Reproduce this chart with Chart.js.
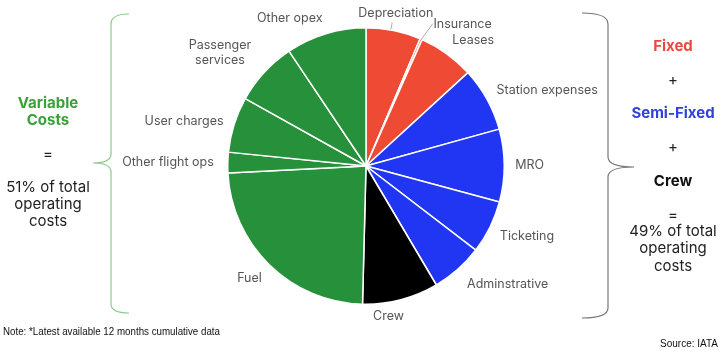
<!DOCTYPE html>
<html><head><meta charset="utf-8">
<script src="https://cdn.jsdelivr.net/npm/chart.js@4/dist/chart.umd.min.js"></script>
<style>html,body{margin:0;padding:0;background:#fff}canvas{display:block}</style>
</head><body>
<canvas id="c" width="725" height="358"></canvas>
<script>
// ---- data ----
const categories = ['Depreciation','Insurance','Leases','Station expenses','MRO','Ticketing','Adminstrative','Crew','Fuel','Other flight ops','User charges','Passenger services','Other opex'];
const shares = [6.4, 0.25, 6.55, 7.5, 8.5, 6.2, 6.1, 8.9, 23.8, 2.4, 6.5, 7.5, 9.4];
const groups = ['fixed','fixed','fixed','semi','semi','semi','semi','crew','variable','variable','variable','variable','variable'];
const leftPanelLines = ['Variable', 'Costs', '=', '51% of total', 'operating', 'costs'];
const rightPanelLines = ['Fixed', '+', 'Semi-Fixed', '+', 'Crew', '=', '49% of total', 'operating', 'costs'];
const noteText = 'Note: *Latest available 12 months cumulative data';
const sourceText = 'Source: IATA';

// ---- styles ----
const groupColors = {fixed:'#EF4A34', semi:'#2136F2', crew:'#000000', variable:'#27903A'};
const labelLayout = {
  'Depreciation': {align:'center', dx:0, dy:-7},
  'Insurance': {align:'left', dx:8, dy:-5},
  'Leases': {align:'left', dx:-1, dy:-5},
  'Station expenses': {align:'left', dx:0, dy:-3},
  'MRO': {align:'left', dx:0, dy:0},
  'Ticketing': {align:'left', dx:0, dy:4},
  'Adminstrative': {align:'left', dx:2, dy:7},
  'Crew': {align:'center', dx:-15, dy:6},
  'Fuel': {align:'right', dx:0, dy:5},
  'Other flight ops': {align:'right', dx:-3, dy:0},
  'User charges': {align:'right', dx:0, dy:0},
  'Passenger services': {align:'right', dx:-5, dy:-12, lines:['Passenger','services']},
  'Other opex': {align:'right', dx:0, dy:-5}
};
const FONT = 'Inter, "Open Sans", sans-serif';

const labelPlugin = {
  id: 'sliceLabels',
  afterDatasetsDraw(chart) {
    const ctx = chart.ctx;
    const arcs = chart.getDatasetMeta(0).data;
    ctx.save();
    ctx.font = '12.5px ' + FONT;
    ctx.fillStyle = '#555';
    ctx.textBaseline = 'middle';
    arcs.forEach((arc, i) => {
      const name = categories[i];
      const lay = labelLayout[name] || {align:'center', dx:0, dy:0};
      const mid = (arc.startAngle + arc.endAngle) / 2;
      const r = arc.outerRadius + 11;
      const ax = arc.x + Math.cos(mid) * r + lay.dx;
      const ay = arc.y + Math.sin(mid) * r + lay.dy;
      const lines = lay.lines || [name];
      const lh = 15;
      const w = Math.max(...lines.map(l => ctx.measureText(l).width));
      let cx;
      if (lay.align === 'left') cx = ax + w / 2;
      else if (lay.align === 'right') cx = ax - w / 2;
      else cx = ax;
      ctx.textAlign = 'center';
      lines.forEach((l, k) => {
        ctx.fillText(l, cx, ay + (k - (lines.length - 1) / 2) * lh);
      });
    });
    // leader lines for the two thin top slices
    ctx.strokeStyle = '#999';
    ctx.lineWidth = 0.8;
    const dep = arcs[0], ins = arcs[1];
    const dm = (dep.startAngle + dep.endAngle) / 2;
    ctx.beginPath();
    ctx.moveTo(dep.x + Math.cos(dm) * (dep.outerRadius + 1) - 3, dep.y + Math.sin(dm) * (dep.outerRadius + 1));
    ctx.lineTo(dep.x + Math.cos(dm) * (dep.outerRadius + 8) - 3, dep.y + Math.sin(dm) * (dep.outerRadius + 8));
    ctx.stroke();
    const im = (ins.startAngle + ins.endAngle) / 2;
    ctx.beginPath();
    ctx.moveTo(ins.x + Math.cos(im) * (ins.outerRadius - 1), ins.y + Math.sin(im) * (ins.outerRadius - 1));
    ctx.lineTo(ins.x + Math.cos(im) * (ins.outerRadius + 17) + 5, ins.y + Math.sin(im) * (ins.outerRadius + 17));
    ctx.stroke();
    ctx.restore();
  }
};

const sidePlugin = {
  id: 'sidePanels',
  afterDraw(chart) {
    const ctx = chart.ctx;
    ctx.save();
    // braces
    ctx.lineWidth = 1.2;
    ctx.strokeStyle = '#8ACB8A';
    ctx.beginPath();
    ctx.moveTo(129, 14);
    ctx.quadraticCurveTo(111, 14, 111, 24);
    ctx.lineTo(111, 154);
    ctx.quadraticCurveTo(111, 163, 93, 163);
    ctx.quadraticCurveTo(111, 163, 111, 172);
    ctx.lineTo(111, 304);
    ctx.quadraticCurveTo(111, 313, 129, 313);
    ctx.stroke();
    ctx.strokeStyle = '#777';
    ctx.beginPath();
    ctx.moveTo(582, 13);
    ctx.quadraticCurveTo(608, 13, 608, 24);
    ctx.lineTo(608, 157);
    ctx.quadraticCurveTo(608, 167, 634, 167);
    ctx.quadraticCurveTo(608, 167, 608, 177);
    ctx.lineTo(608, 308);
    ctx.quadraticCurveTo(608, 318, 582, 318);
    ctx.stroke();

    ctx.textAlign = 'center';
    ctx.textBaseline = 'middle';
    // left panel
    const leftY = [103, 120, 154, 187, 204, 221];
    leftPanelLines.forEach((t, i) => {
      const bold = i < 2;
      ctx.font = (bold ? 'bold ' : '') + '15px ' + FONT;
      ctx.fillStyle = bold ? '#3AA13A' : '#222';
      ctx.fillText(t, 48, leftY[i]);
    });
    // right panel
    const rightY = [46, 80, 113, 147, 181, 215, 231, 248, 266];
    const rightStyle = [['bold','#E84A3C'],['','#222'],['bold','#3040E0'],['','#222'],['bold','#111'],['','#222'],['','#222'],['','#222'],['','#222']];
    rightPanelLines.forEach((t, i) => {
      ctx.font = (rightStyle[i][0] ? 'bold ' : '') + '15px ' + FONT;
      ctx.fillStyle = rightStyle[i][1];
      ctx.fillText(t, 673, rightY[i]);
    });

    // footer (condensed)
    ctx.fillStyle = '#111';
    ctx.font = '10px "Liberation Sans", Arial, sans-serif';
    ctx.textAlign = 'left';
    let w = ctx.measureText(noteText).width;
    ctx.save();
    ctx.translate(3, 332);
    ctx.scale(217 / w, 1);
    ctx.fillText(noteText, 0, 0);
    ctx.restore();
    w = ctx.measureText(sourceText).width;
    ctx.save();
    ctx.translate(660, 344);
    ctx.scale(58 / w, 1);
    ctx.fillText(sourceText, 0, 0);
    ctx.restore();
    ctx.restore();
  }
};

new Chart(document.getElementById('c'), {
  type: 'pie',
  data: {
    labels: categories,
    datasets: [{
      data: shares,
      backgroundColor: groups.map(g => groupColors[g]),
      borderColor: '#ffffff',
      borderWidth: 1.5
    }]
  },
  options: {
    responsive: false,
    animation: false,
    layout: {padding: {left: 227, right: 220, top: 27, bottom: 53}},
    plugins: {legend: {display: false}, tooltip: {enabled: false}}
  },
  plugins: [labelPlugin, sidePlugin]
});
</script>
</body></html>
